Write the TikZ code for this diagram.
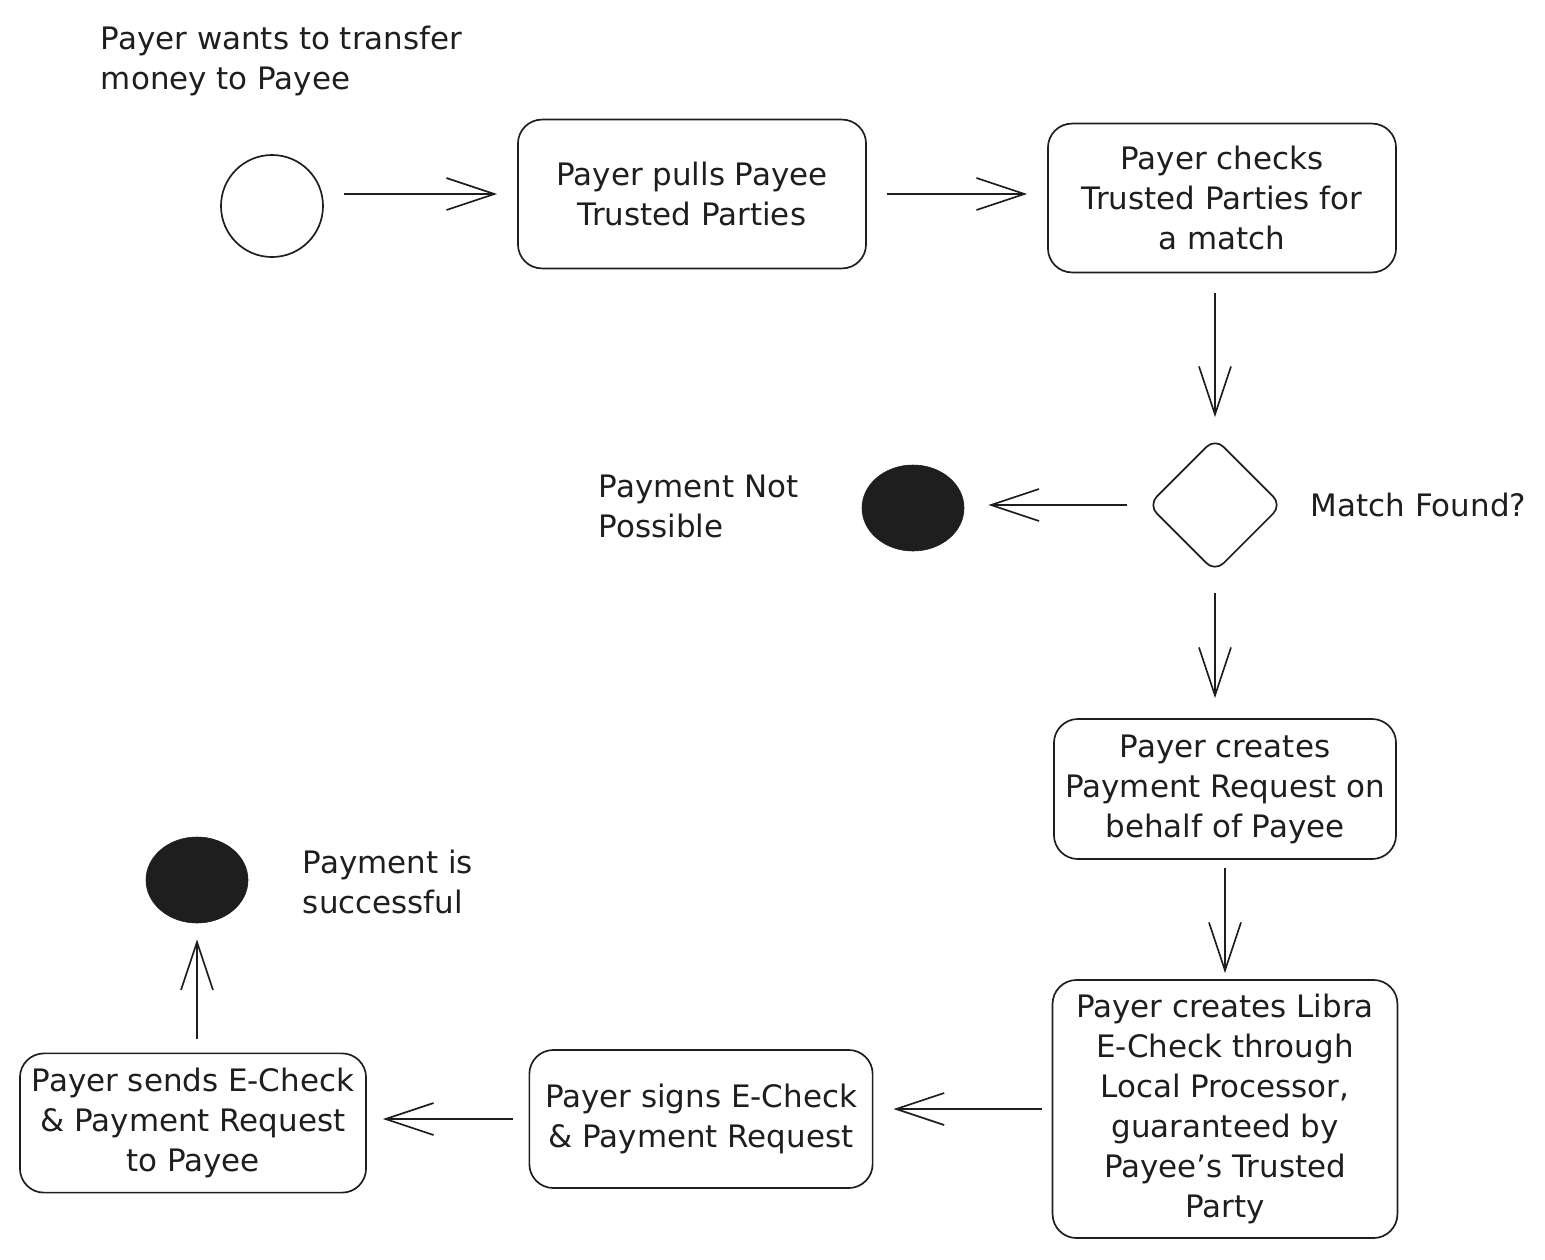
\documentclass[tikz,border=0pt]{standalone}
\usepackage{fontspec}
\setmainfont{DejaVu Sans}
\usetikzlibrary{arrows.meta,shapes.geometric}
\definecolor{ink}{HTML}{1E1E1E}
\tikzset{
  actbox/.style={draw=ink, line width=1.2pt, rounded corners=0.6cm, align=center,
    inner sep=0pt, text=ink, font=\fontsize{22}{28.5}\selectfont},
  startnode/.style={draw=ink, line width=1.2pt, circle, minimum size=2.55cm},
  endnode/.style={draw=ink, fill=ink, ellipse, minimum width=2.55cm, minimum height=2.15cm},
  choice/.style={draw=ink, line width=1.2pt, diamond, aspect=1, inner sep=0pt,
    minimum size=3.35cm, rounded corners=0.3cm},
  note/.style={align=left, anchor=west, text=ink, font=\fontsize{22}{28.5}\selectfont},
  flow/.style={draw=ink, line width=1.2pt, shorten <=0.5cm, shorten >=0.5cm,
    -{Straight Barb[length=1.2cm,width=0.8cm,line width=1.2pt]}},
}
\begin{document}
\begin{tikzpicture}[x=0.025cm, y=-0.025cm]
  \useasboundingbox (0,0) rectangle (1545,1259);
  % start
  \node [note] (wants) at (96,61) {Payer wants to transfer\\money to Payee};
  \node [startnode] (start) at (272,206) {};
  % activities
  \node [actbox, minimum width=8.7cm, minimum height=3.72cm] (pull) at (692,194)
    {Payer pulls Payee\\Trusted Parties};
  \node [actbox, minimum width=8.7cm, minimum height=3.72cm] (check) at (1222,198)
    {Payer checks\\Trusted Parties for\\a match};
  \node [choice] (match) at (1215,505) {};
  \node [note] (matchlbl) at (1306,505) {Match Found?};
  \node [endnode] (fail) at (913,508) {};
  \node [note] (faillbl) at (594,506) {Payment Not\\Possible};
  \node [actbox, minimum width=8.55cm, minimum height=3.5cm] (request) at (1225,789)
    {Payer creates\\Payment Request on\\behalf of Payee};
  \node [actbox, minimum width=8.62cm, minimum height=6.45cm] (echeck) at (1225,1109)
    {Payer creates Libra\\E-Check through\\Local Processor,\\guaranteed by\\Payee's Trusted\\Party};
  \node [actbox, minimum width=8.58cm, minimum height=3.45cm] (sign) at (701,1119)
    {Payer signs E-Check\\\& Payment Request};
  \node [actbox, minimum width=8.65cm, minimum height=3.48cm] (send) at (193,1123)
    {Payer sends E-Check\\\& Payment Request\\to Payee};
  \node [endnode] (done) at (197,880) {};
  \node [note] (donelbl) at (298,882) {Payment is\\successful};
  % flows
  \draw [flow] (start.east |- pull.west) -- (pull.west);
  \draw [flow] (pull.east) -- (pull.east -| check.west);
  \draw [flow] (match.north |- check.south) -- (match.north);
  \draw [flow, shorten >=0.6cm] (match.west) -- (match.west -| fail.east);
  \draw [flow] (match.south) -- (match.south |- request.north);
  \draw [flow, shorten <=0.2cm, shorten >=0.15cm] (request.south) -- (echeck.north);
  \draw [flow, shorten <=0.25cm] (echeck.west) -- (echeck.west -| sign.east);
  \draw [flow, shorten <=0.4cm, shorten >=0.4cm] (sign.west) -- (sign.west -| send.east);
  \draw [flow, shorten <=0.35cm, shorten >=0.4cm] (send.north -| done.south) -- (done.south);
\end{tikzpicture}
\end{document}
